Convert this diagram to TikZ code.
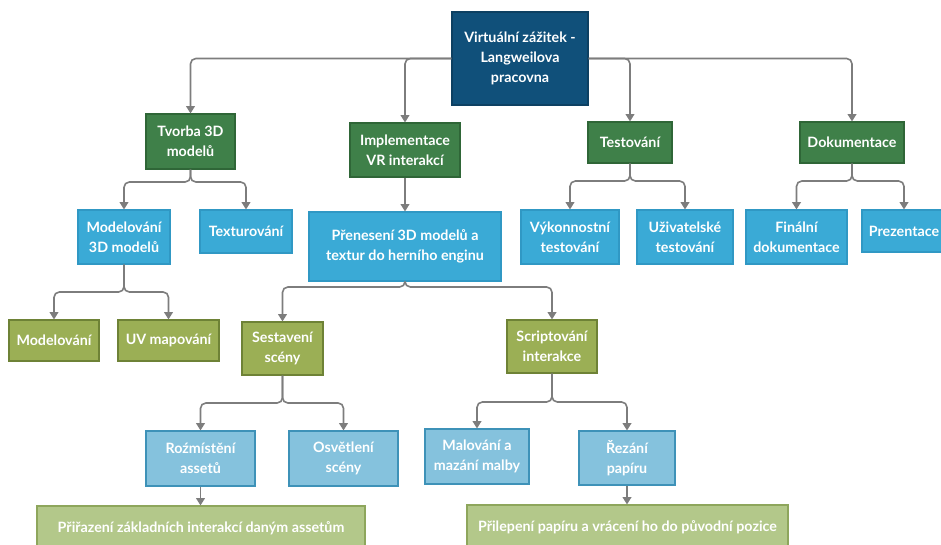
\documentclass[tikz,border=0pt]{standalone}
\usepackage{fontspec}
\setmainfont{Lato}
\usetikzlibrary{arrows.meta}
\definecolor{rootblue}{HTML}{10507A}
\definecolor{darkgreen}{HTML}{3F8049}
\definecolor{darkgreenb}{HTML}{2F6637}
\definecolor{midblue}{HTML}{3AAAD6}
\definecolor{midblueb}{HTML}{3098C4}
\definecolor{olive}{HTML}{9BAF55}
\definecolor{oliveb}{HTML}{6E8236}
\definecolor{lightblue}{HTML}{85C2DD}
\definecolor{lightblueb}{HTML}{3E92B8}
\definecolor{lightolive}{HTML}{B3C88A}
\definecolor{lightoliveb}{HTML}{8EA65C}
\definecolor{conncol}{HTML}{7D7D7D}
\tikzset{
  box/.style={rectangle, align=center, text=white, inner sep=0pt,
    font=\fontsize{10.7pt}{15pt}\selectfont\bfseries, line width=0.8pt},
  rootbox/.style={box, fill=rootblue, draw=rootblue!80!black},
  lvlone/.style={box, fill=darkgreen, draw=darkgreenb},
  lvltwo/.style={box, fill=midblue, draw=midblueb},
  lvlthree/.style={box, fill=olive, draw=oliveb},
  lvlfour/.style={box, fill=lightblue, draw=lightblueb},
  lvlfive/.style={box, fill=lightolive, draw=lightoliveb},
  conn/.style={draw=conncol, line width=1.2pt, rounded corners=4pt,
    -{Triangle[width=6.5pt,length=5.5pt]}},
}
\newcommand{\bx}[7]{% style, name, cx, cy, w, h, text
  \node[#1, minimum width=#5*0.75pt, minimum height=#6*0.75pt] (#2) at (#3,#4) {#7};}
\begin{document}
\begin{tikzpicture}[x=0.75pt, y=-0.75pt]
\useasboundingbox (0,0) rectangle (941,545);
% root
\bx{rootbox}{root}{520}{58.5}{136}{93}{Virtuální zážitek -\\Langweilova\\pracovna}
% first level
\bx{lvlone}{tvorba}{190.5}{141.5}{89}{55}{Tvorba 3D\\modelů}
\bx{lvlone}{impl}{405}{150}{110}{54}{Implementace\\VR interakcí}
\bx{lvlone}{test}{630}{142.5}{84}{41}{Testování}
\bx{lvlone}{dok}{852}{142.5}{104}{41}{Dokumentace}
% second level
\bx{lvltwo}{model3d}{124}{237}{92}{54}{Modelování\\3D modelů}
\bx{lvltwo}{textur}{246}{231.5}{92}{43}{Texturování}
\bx{lvltwo}{prenes}{405}{246.5}{192}{69}{Přenesení 3D modelů a\\textur do herního enginu}
\bx{lvltwo}{vykon}{570}{237}{98}{54}{Výkonnostní\\testování}
\bx{lvltwo}{uziv}{685}{237}{96}{54}{Uživatelské\\testování}
\bx{lvltwo}{final}{796.5}{237}{101}{54}{Finální\\dokumentace}
\bx{lvltwo}{prez}{904}{231}{84}{42}{Prezentace}
% third level
\bx{lvlthree}{modelovani}{54}{340.5}{90}{41}{Modelování}
\bx{lvlthree}{uv}{168.5}{340.5}{101}{41}{UV mapování}
\bx{lvlthree}{sestav}{282.5}{348.5}{81}{53}{Sestavení\\scény}
\bx{lvlthree}{script}{552}{346.5}{90}{53}{Scriptování\\interakce}
% fourth level
\bx{lvlfour}{rozm}{200.5}{458.5}{109}{55}{Roźmístění\\assetů}
\bx{lvlfour}{osvet}{343.5}{458.5}{109}{55}{Osvětlení\\scény}
\bx{lvlfour}{malov}{477}{456.5}{104}{55}{Malování a\\mazání malby}
\bx{lvlfour}{rezani}{627}{458}{96}{54}{Řezání\\papíru}
% fifth level
\bx{lvlfive}{prir}{201}{528}{328}{44}{Přiřazení základních interakcí daným assetům}
\bx{lvlfive}{prilep}{627.5}{527.5}{321}{45}{Přilepení papíru a vrácení ho do původní pozice}

% connectors from the root
\draw[conn] (root.west) -| (tvorba.north);
\draw[conn] (root.west) -| (impl.north);
\draw[conn] (root.east) -| (test.north);
\draw[conn] (root.east) -| (dok.north);
% branching connectors
\draw[conn] (tvorba.south) -- (tvorba.south |- 0,182) -| (model3d.north);
\draw[conn] (tvorba.south) -- (tvorba.south |- 0,182) -| (textur.north);
\draw[conn] (impl.south) -- (prenes.north);
\draw[conn] (test.south) -- (test.south |- 0,181) -| (vykon.north);
\draw[conn] (test.south) -- (test.south |- 0,181) -| (uziv.north);
\draw[conn] (dok.south) -- (dok.south |- 0,181) -| (final.north);
\draw[conn] (dok.south) -- (dok.south |- 0,181) -| (prez.north);
\draw[conn] (model3d.south) -- (model3d.south |- 0,292) -| (modelovani.north);
\draw[conn] (model3d.south) -- (model3d.south |- 0,292) -| (uv.north);
\draw[conn] (prenes.south) -- (prenes.south |- 0,287) -| (sestav.north);
\draw[conn] (prenes.south) -- (prenes.south |- 0,287) -| (script.north);
\draw[conn] (sestav.south) -- (sestav.south |- 0,403) -| (rozm.north);
\draw[conn] (sestav.south) -- (sestav.south |- 0,403) -| (osvet.north);
\draw[conn] (script.south) -- (script.south |- 0,402) -| (malov.north);
\draw[conn] (script.south) -- (script.south |- 0,402) -| (rezani.north);
\draw[conn] (rozm.south) -- (rozm.south |- prir.north);
\draw[conn] (rezani.south) -- (rezani.south |- prilep.north);
\end{tikzpicture}
\end{document}
